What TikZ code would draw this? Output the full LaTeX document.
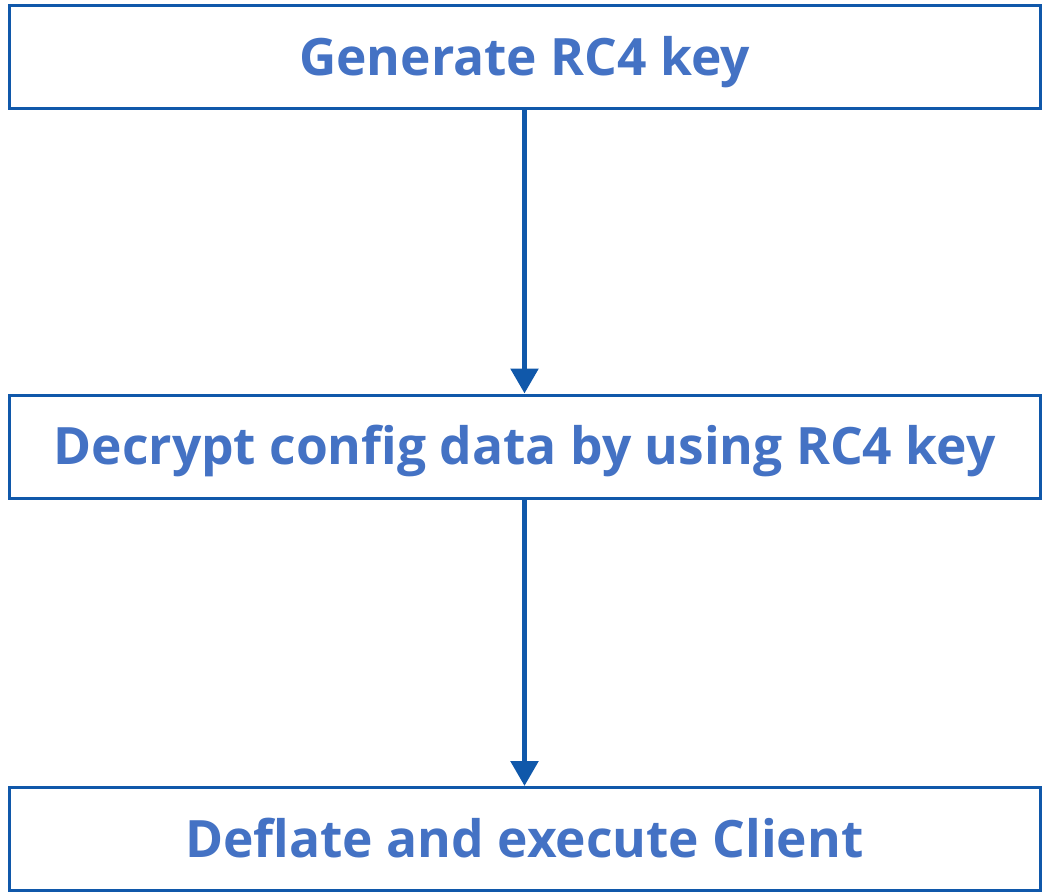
\documentclass[tikz,border=0pt]{standalone}
\usepackage{fontspec}
\setmainfont{Open Sans}
\usetikzlibrary{arrows.meta}
\definecolor{edgeblue}{RGB}{16,88,170}
\definecolor{textblue}{RGB}{68,114,196}
\begin{document}
\begin{tikzpicture}[x=1pt,y=1pt,
  stepbox/.style={draw=edgeblue, line width=3pt, fill=white, minimum width=1031pt, minimum height=103pt, inner sep=0pt, font=\fontsize{51.5}{55}\selectfont\bfseries, text=textblue, text height=42pt, text depth=6pt},
  flow/.style={draw=edgeblue, line width=5.5pt, -{Triangle[width=27pt,length=25pt]}}]
\useasboundingbox (0,0) rectangle (1043,-894);
\node[stepbox] (a) at (524.5,-57) {Generate RC4 key};
\node[stepbox] (b) at (524.5,-446.5) {Decrypt config data by using RC4 key};
\node[stepbox] (c) at (524.5,-839) {Deflate and execute Client};
\draw[flow] (a.south) -- (b.north);
\draw[flow] (b.south) -- (c.north);
\end{tikzpicture}
\end{document}
